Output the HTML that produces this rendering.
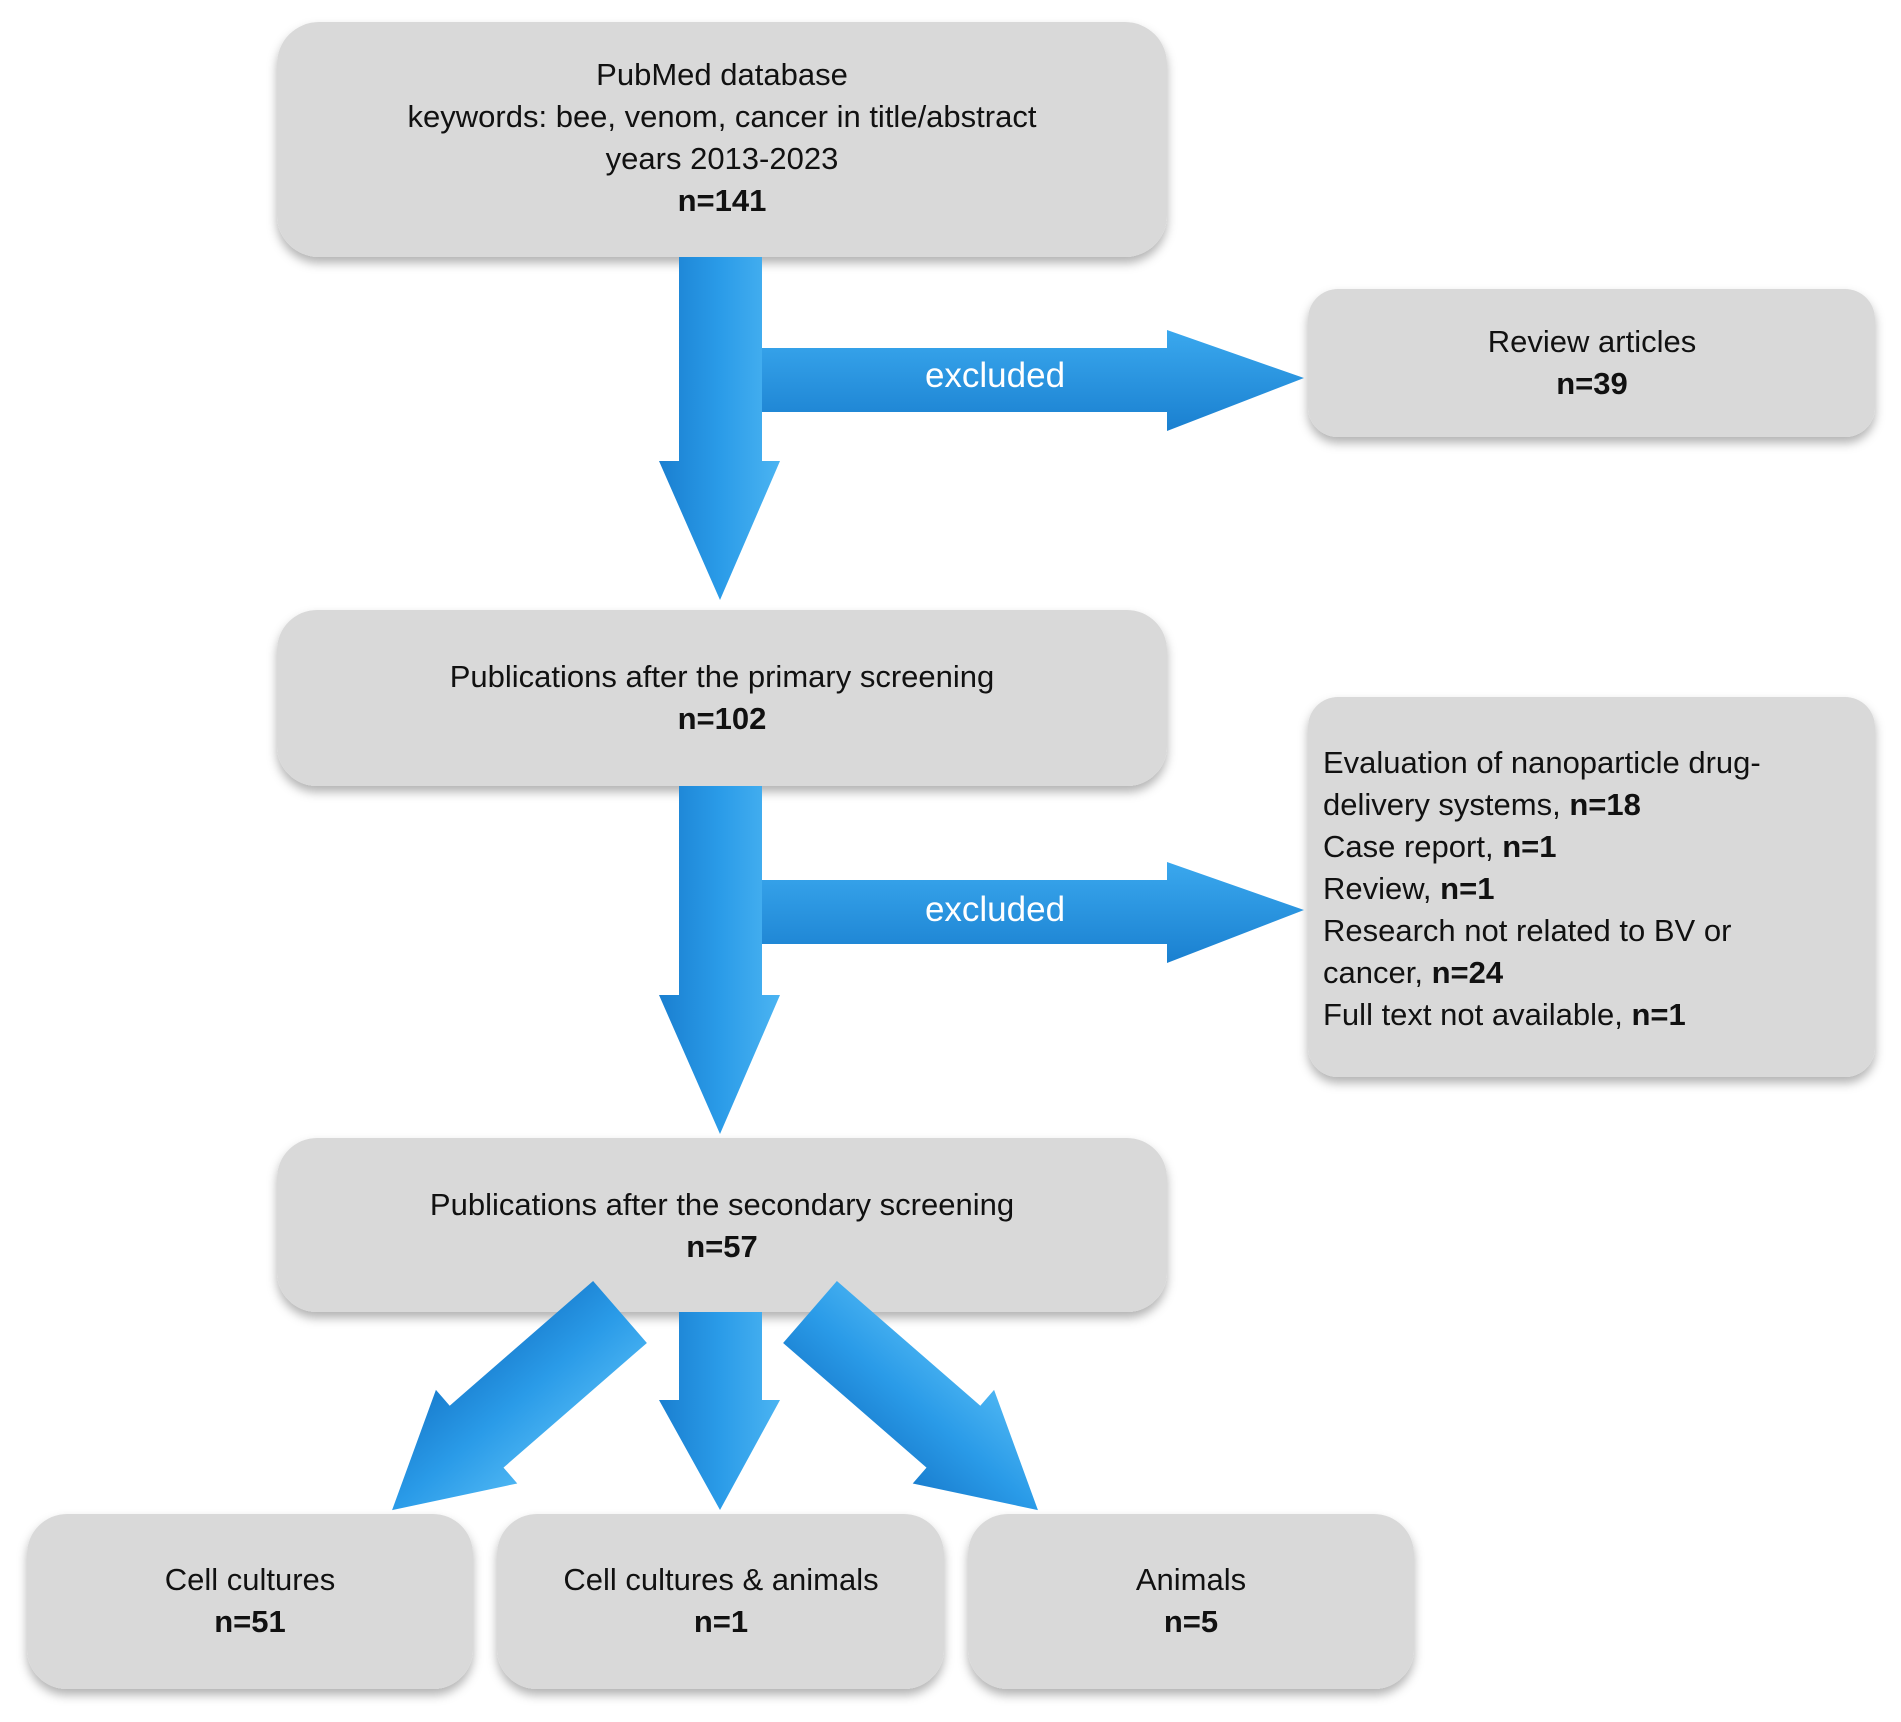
<!DOCTYPE html>
<html><head><meta charset="utf-8"><style>
html,body{margin:0;padding:0;background:#fff;}
svg{display:block;}
text{font-family:"Liberation Sans",sans-serif;fill:#111;}
</style></head><body>
<svg width="1901" height="1722" viewBox="0 0 1901 1722" xmlns="http://www.w3.org/2000/svg">
<defs>
<linearGradient id="gv" x1="0" y1="0" x2="1" y2="0"><stop offset="0" stop-color="#1a7fd0"/><stop offset="0.5" stop-color="#2a9be8"/><stop offset="1" stop-color="#4bb4f2"/></linearGradient>
<linearGradient id="gh" x1="0" y1="0" x2="0" y2="1"><stop offset="0" stop-color="#3aa8ee"/><stop offset="1" stop-color="#1a80d0"/></linearGradient>
<filter id="sh" x="-10%" y="-10%" width="120%" height="130%"><feDropShadow dx="0" dy="6" stdDeviation="5" flood-color="#000" flood-opacity="0.3"/></filter>
</defs>
<g fill="#d9d9d9" filter="url(#sh)">
<rect x="277" y="22" width="890" height="235" rx="42"/>
<rect x="1308" y="289" width="567" height="148" rx="30"/>
<rect x="277" y="610" width="890" height="176" rx="40"/>
<rect x="1308" y="697" width="567" height="380" rx="30"/>
<rect x="277" y="1138" width="890" height="174" rx="40"/>
<rect x="27" y="1514" width="446" height="175" rx="40"/>
<rect x="497" y="1514" width="447" height="175" rx="40"/>
<rect x="968" y="1514" width="446" height="175" rx="40"/>
</g>
<!-- arrows -->
<g fill="url(#gh)">
<polygon points="762,348 1167,348 1167,330 1304,378 1167,431 1167,412 762,412"/>
<polygon points="762,880 1167,880 1167,862 1304,910 1167,963 1167,944 762,944"/>
</g>
<g fill="url(#gv)">
<polygon points="679,257 762,257 762,461 780,461 720,600 659,461 679,461"/>
<polygon points="679,786 762,786 762,995 780,995 720,1134 659,995 679,995"/>
<polygon points="679,1312 762,1312 762,1400 780,1400 720,1510 659,1400 679,1400"/>
<g transform="translate(620,1312) rotate(49)"><polygon points="-41,0 41,0 41,190 62,190 0,302 -62,190 -41,190"/></g>
<g transform="translate(810,1312) rotate(-49)"><polygon points="-41,0 41,0 41,190 62,190 0,302 -62,190 -41,190"/></g>
</g>
<text x="995" y="387" font-size="35" fill="#fff" style="fill:#fff" text-anchor="middle">excluded</text>
<text x="995" y="921" font-size="35" fill="#fff" style="fill:#fff" text-anchor="middle">excluded</text>
<g font-size="31" text-anchor="middle">
<text x="722" y="85">PubMed database</text>
<text x="722" y="127">keywords: bee, venom, cancer in title/abstract</text>
<text x="722" y="169">years 2013-2023</text>
<text x="722" y="211" font-weight="bold">n=141</text>
<text x="1592" y="352">Review articles</text>
<text x="1592" y="394" font-weight="bold">n=39</text>
<text x="722" y="687">Publications after the primary screening</text>
<text x="722" y="729" font-weight="bold">n=102</text>
<text x="722" y="1215">Publications after the secondary screening</text>
<text x="722" y="1257" font-weight="bold">n=57</text>
<text x="250" y="1590">Cell cultures</text>
<text x="250" y="1632" font-weight="bold">n=51</text>
<text x="721" y="1590">Cell cultures &amp; animals</text>
<text x="721" y="1632" font-weight="bold">n=1</text>
<text x="1191" y="1590">Animals</text>
<text x="1191" y="1632" font-weight="bold">n=5</text>
</g>
<g font-size="31">
<text x="1323" y="773">Evaluation of nanoparticle drug-</text>
<text x="1323" y="815">delivery systems, <tspan font-weight="bold">n=18</tspan></text>
<text x="1323" y="857">Case report, <tspan font-weight="bold">n=1</tspan></text>
<text x="1323" y="899">Review, <tspan font-weight="bold">n=1</tspan></text>
<text x="1323" y="941">Research not related to BV or</text>
<text x="1323" y="983">cancer, <tspan font-weight="bold">n=24</tspan></text>
<text x="1323" y="1025">Full text not available, <tspan font-weight="bold">n=1</tspan></text>
</g>
</svg>
</body></html>
